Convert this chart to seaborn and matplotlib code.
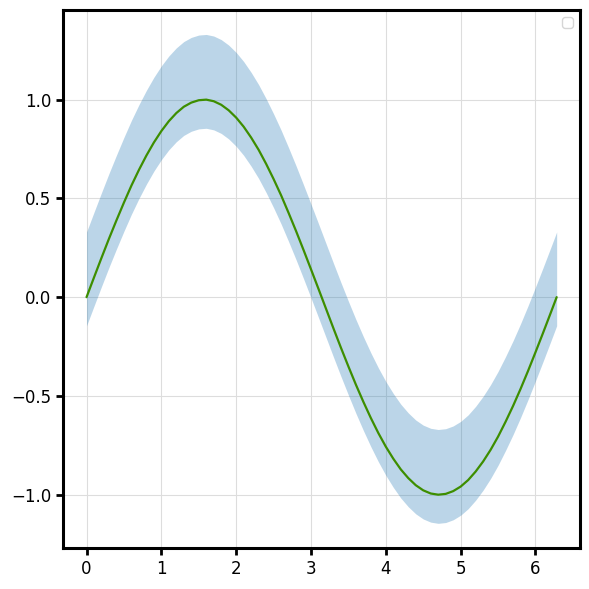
import matplotlib
matplotlib.use("Agg")
import matplotlib.pyplot as plt
import seaborn as sns
import pandas as pd

x = [0.0, 0.1, 0.2, 0.3, 0.4, 0.5, 0.6, 0.7, 0.8, 0.9,
     1.0, 1.1, 1.2, 1.3, 1.4, 1.5, 1.6, 1.7, 1.8, 1.9,
     2.0, 2.1, 2.2, 2.3, 2.4, 2.5, 2.6, 2.7, 2.8, 2.9,
     3.0, 3.1, 3.2, 3.3, 3.4, 3.5, 3.6, 3.7, 3.8, 3.9,
     4.0, 4.1, 4.2, 4.3, 4.4, 4.5, 4.6, 4.7, 4.8, 4.9,
     5.0, 5.1, 5.2, 5.3, 5.4, 5.5, 5.6, 5.7, 5.8, 5.9,
     6.0, 6.1, 6.2, 6.283]
y = [0.000, 0.100, 0.199, 0.296, 0.389, 0.479, 0.565, 0.644, 0.717, 0.783,
     0.841, 0.891, 0.932, 0.964, 0.985, 0.997, 1.000, 0.992, 0.974, 0.946,
     0.909, 0.863, 0.808, 0.746, 0.675, 0.598, 0.516, 0.427, 0.335, 0.239,
     0.141, 0.042, -0.058, -0.158, -0.256, -0.351, -0.443, -0.530, -0.612, -0.688,
     -0.757, -0.818, -0.872, -0.916, -0.952, -0.978, -0.994, -1.000, -0.996, -0.982,
     -0.959, -0.926, -0.883, -0.832, -0.773, -0.706, -0.631, -0.551, -0.465, -0.374,
     -0.279, -0.182, -0.083, 0.000]
upper = [0.330, 0.430, 0.529, 0.626, 0.719, 0.809, 0.895, 0.974, 1.047, 1.113,
         1.171, 1.221, 1.262, 1.294, 1.315, 1.327, 1.330, 1.322, 1.304, 1.276,
         1.239, 1.193, 1.138, 1.076, 1.005, 0.928, 0.846, 0.757, 0.665, 0.569,
         0.471, 0.372, 0.272, 0.172, 0.074, -0.021, -0.113, -0.200, -0.282, -0.358,
         -0.427, -0.488, -0.542, -0.586, -0.622, -0.648, -0.664, -0.670, -0.666, -0.652,
         -0.629, -0.596, -0.553, -0.502, -0.443, -0.376, -0.301, -0.221, -0.135, -0.044,
         0.051, 0.148, 0.247, 0.330]
lower = [-0.145, -0.045, 0.054, 0.151, 0.244, 0.334, 0.420, 0.499, 0.572, 0.638,
         0.696, 0.746, 0.787, 0.819, 0.840, 0.852, 0.855, 0.847, 0.829, 0.801,
         0.764, 0.718, 0.663, 0.601, 0.530, 0.453, 0.371, 0.282, 0.190, 0.094,
         -0.004, -0.103, -0.203, -0.303, -0.401, -0.496, -0.588, -0.675, -0.757, -0.833,
         -0.902, -0.963, -1.017, -1.061, -1.097, -1.123, -1.139, -1.145, -1.141, -1.127,
         -1.104, -1.071, -1.028, -0.977, -0.918, -0.851, -0.776, -0.696, -0.610, -0.519,
         -0.424, -0.327, -0.228, -0.145]

df = pd.DataFrame({"x": x, "y": y, "upper": upper, "lower": lower})

sns.set_style("whitegrid", {
    "axes.edgecolor": "black",
    "grid.color": "#dddddd",
    "xtick.bottom": True,
    "ytick.left": True,
    "xtick.color": "black",
    "ytick.color": "black",
    "text.color": "black",
    "axes.labelcolor": "black",
})
plt.rcParams.update({
    "axes.linewidth": 2.2,
    "xtick.major.size": 5,
    "ytick.major.size": 5,
    "xtick.major.width": 2,
    "ytick.major.width": 2,
    "xtick.labelsize": 12,
    "ytick.labelsize": 12,
    "grid.linewidth": 0.8,
})

fig, ax = plt.subplots(figsize=(5.89, 5.89), dpi=100)
ax.fill_between(df["x"], df["lower"], df["upper"], color="#1f77b4", alpha=0.3, linewidth=0)
sns.lineplot(data=df, x="x", y="y", ax=ax, color="#3d8e00", linewidth=1.6)
ax.set_xlabel("")
ax.set_ylabel("")
ax.legend()
fig.subplots_adjust(left=0.107, right=0.985, top=0.983, bottom=0.07)
fig.savefig("out.png")
